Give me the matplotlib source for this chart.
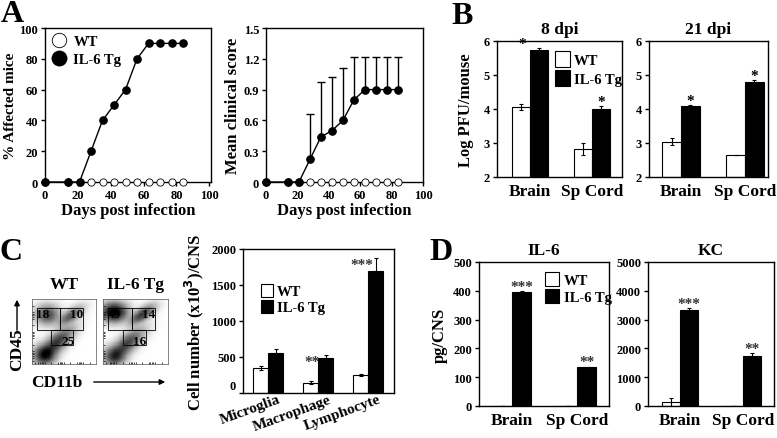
import numpy as np
import matplotlib
matplotlib.use("Agg")
import matplotlib.pyplot as plt
import matplotlib.transforms as mtransforms
from matplotlib.patches import Rectangle, FancyArrowPatch

plt.rcParams['font.family'] = ['Liberation Serif', 'DejaVu Serif']
plt.rcParams['font.weight'] = 'bold'
plt.rcParams['axes.labelweight'] = 'bold'
plt.rcParams['axes.titleweight'] = 'bold'
plt.rcParams['mathtext.default'] = 'bf'
plt.rcParams['axes.linewidth'] = 1.0

W, H = 777, 439

# ---- Panel A data ----
days = [0, 14, 21, 28, 35, 42, 49, 56, 63, 70, 77, 84]
affected_tg = [0, 0, 0, 20, 40, 50, 60, 80, 90, 90, 90, 90]
affected_wt = [0] * 12
score_tg = [0, 0, 0, 0.22, 0.44, 0.50, 0.60, 0.80, 0.90, 0.90, 0.90, 0.90]
score_tg_err = [0, 0, 0, 0.44, 0.53, 0.52, 0.51, 0.42, 0.32, 0.32, 0.32, 0.32]
score_wt = [0] * 12

# ---- Panel B data ----
tissues = ['Brain', 'Sp Cord']
pfu8_wt = [4.06, 2.82]
pfu8_wt_err = [0.10, 0.17]
pfu8_tg = [5.75, 4.01]
pfu8_tg_err = [0.05, 0.07]
pfu21_wt = [3.04, 2.65]
pfu21_wt_err = [0.10, 0.0]
pfu21_tg = [4.09, 4.79]
pfu21_tg_err = [0.03, 0.07]

# ---- Panel C data ----
cell_types = ['Microglia', 'Macrophage', 'Lymphocyte']
cells_wt = [345, 140, 250]
cells_wt_err = [30, 20, 20]
cells_tg = [556, 486, 1694]
cells_tg_err = [55, 45, 180]

gate_labels_wt = ['18', '10', '25']
gate_labels_tg = ['49', '14', '16']

# ---- Panel D data ----
il6_wt = [0, 0]
il6_tg = [396, 135]
il6_tg_err = [5, 2]
kc_wt = [140, 0]
kc_wt_err = [150, 0]
kc_tg = [3340, 1730]
kc_tg_err = [50, 100]


def px(l, t, r, b):
    return [l / W, 1 - b / H, (r - l) / W, (b - t) / H]


fig = plt.figure(figsize=(W / 100, H / 100), dpi=100)

tick_fs = 9
lab_fs = 12


def style(ax):
    ax.tick_params(labelsize=tick_fs, length=3, width=1, pad=2)
    for s in ax.spines.values():
        s.set_linewidth(1.0)


def bold_ticks(ax):
    for t in ax.get_xticklabels() + ax.get_yticklabels():
        t.set_fontweight('bold')


# Panel A1
ax = fig.add_axes(px(45, 29, 211, 183))
ax.plot(days, affected_wt, 'o', mfc='white', mec='black', ms=5.2, mew=0.6,
        clip_on=False, zorder=3, label='WT')
ax.plot(days, affected_tg, '-o', color='black', ms=5.2, lw=1.0,
        clip_on=False, zorder=4, label='IL-6 Tg')
ax.set_xlim(0, 101)
ax.set_ylim(0, 100)
ax.set_xticks([0, 20, 40, 60, 80, 100])
ax.set_yticks([0, 20, 40, 60, 80, 100])
ax.set_xlabel('Days post infection', fontsize=lab_fs, labelpad=1)
ax.set_ylabel('% Affected mice', fontsize=11, labelpad=2)
ax.legend(loc='upper left', frameon=False, fontsize=10.5, markerscale=2.0,
          handletextpad=0.5, borderaxespad=0.15, handlelength=1.0,
          labelspacing=0.35, borderpad=0.3)
style(ax)
bold_ticks(ax)

# Panel A2
ax = fig.add_axes(px(266, 29, 423, 183))
ax.plot(days, score_wt, 'o', mfc='white', mec='black', ms=5.2, mew=0.6,
        clip_on=False, zorder=3)
ax.errorbar(days, score_tg, yerr=[np.zeros(len(days)), score_tg_err],
            fmt='-o', color='black', ms=5.2, lw=1.0, elinewidth=1.0,
            capsize=3, capthick=1.0, clip_on=False, zorder=4)
ax.set_xlim(0, 100)
ax.set_ylim(0, 1.5)
ax.set_xticks([0, 20, 40, 60, 80, 100])
ax.set_yticks([0, 0.3, 0.6, 0.9, 1.2, 1.5])
ax.set_yticklabels(['0', '0.3', '0.6', '0.9', '1.2', '1.5'])
ax.set_xlabel('Days post infection', fontsize=lab_fs, labelpad=1)
ax.set_ylabel('Mean clinical score', fontsize=lab_fs, labelpad=2)
style(ax)
bold_ticks(ax)


def bar_pair(ax, wt, wt_err, tg, tg_err, width, base=0):
    x = np.arange(len(wt))
    ax.bar(x - width / 2, np.array(wt) - base, width, bottom=base,
           color='white', edgecolor='black', lw=0.8, label='WT')
    ax.bar(x + width / 2, np.array(tg) - base, width, bottom=base,
           color='black', edgecolor='black', lw=0.8, label='IL-6 Tg')
    ax.errorbar(x - width / 2, wt, yerr=wt_err, fmt='none', ecolor='black',
                elinewidth=0.8, capsize=1.5, capthick=0.8)
    ax.errorbar(x + width / 2, tg, yerr=tg_err, fmt='none', ecolor='black',
                elinewidth=0.8, capsize=1.5, capthick=0.8)
    return x


# Panel B 8 dpi
ax = fig.add_axes(px(497, 42, 622, 178))
bar_pair(ax, pfu8_wt, pfu8_wt_err, pfu8_tg, pfu8_tg_err, 0.29, base=2)
ax.set_xlim(-0.53, 1.48)
ax.set_ylim(2, 6)
ax.set_yticks([2, 3, 4, 5, 6])
ax.set_xticks([0, 1])
ax.set_xticklabels(tissues)
ax.set_title('8 dpi', fontsize=12.5, pad=6)
ax.set_ylabel('Log PFU/mouse', fontsize=lab_fs, labelpad=7)
ax.legend(loc='upper left', bbox_to_anchor=(0.42, 0.97), frameon=False,
          fontsize=10.5, handlelength=1.0, handleheight=1.3,
          handletextpad=0.3, labelspacing=0.25, borderaxespad=0)
style(ax)
ax.tick_params(axis='x', length=0, labelsize=12.5, pad=4)
bold_ticks(ax)
ax.text(-0.12, pfu8_tg[0] + 0.08, '*', ha='center', fontsize=11)
ax.text(1 + 0.145, pfu8_tg[1] + 0.1, '*', ha='center', fontsize=11)

# Panel B 21 dpi
ax = fig.add_axes(px(649, 42, 768, 178))
bar_pair(ax, pfu21_wt, pfu21_wt_err, pfu21_tg, pfu21_tg_err, 0.29, base=2)
ax.set_xlim(-0.5, 1.36)
ax.set_ylim(2, 6)
ax.set_yticks([2, 3, 4, 5, 6])
ax.set_xticks([0, 1])
ax.set_xticklabels(tissues)
ax.set_title('21 dpi', fontsize=12.5, pad=6)
style(ax)
ax.tick_params(axis='x', length=0, labelsize=12.5, pad=4)
bold_ticks(ax)
ax.text(0.145, pfu21_tg[0] + 0.07, '*', ha='center', fontsize=11)
ax.text(1 + 0.145, pfu21_tg[1] + 0.1, '*', ha='center', fontsize=11)


# Panel C flow plots
def flow(ax, clusters, gates, labels):
    gx, gy = np.meshgrid(np.linspace(0, 1, 120), np.linspace(0, 1, 120))
    z = np.zeros_like(gx)
    for cx, cy, sx, sy, rot, w in clusters:
        dx, dy = gx - cx, gy - cy
        c, s = np.cos(rot), np.sin(rot)
        u = dx * c + dy * s
        v = -dx * s + dy * c
        z += w * np.exp(-0.5 * ((u / sx) ** 2 + (v / sy) ** 2))
    z = np.clip(z / z.max(), 0, 1) ** 0.5
    ax.imshow(z, extent=[0, 1, 0, 1], origin='lower', cmap='gray_r',
              vmin=0, vmax=0.95, interpolation='nearest', aspect='auto')
    for (x0, y0, x1, y1) in gates:
        ax.add_patch(Rectangle((x0, y0), x1 - x0, y1 - y0, fill=False,
                               ec='black', lw=0.6))
    for (tx, ty), t in zip([(0.17, 0.77), (0.70, 0.77), (0.56, 0.35)], labels):
        ax.text(tx, ty, t, fontsize=9.5, ha='center', va='center')
    ax.set_xlim(0, 1)
    ax.set_ylim(0, 1)
    ticks = [0.05, 0.1, 0.13, 0.15, 0.17, 0.2, 0.3, 0.4, 0.43, 0.45, 0.47,
             0.5, 0.6, 0.7, 0.73, 0.75, 0.77, 0.8, 0.9]
    ax.set_xticks(ticks)
    ax.set_yticks(ticks)
    ax.set_xticklabels([])
    ax.set_yticklabels([])
    ax.tick_params(length=1.5, width=0.5, direction='in')
    for s in ax.spines.values():
        s.set_linewidth(0.5)
        s.set_color('#555555')


wt_clusters = [
    (0.20, 0.14, 0.09, 0.08, 0.0, 1.0),
    (0.38, 0.32, 0.18, 0.07, 0.75, 0.75),
    (0.24, 0.76, 0.10, 0.08, 0.0, 0.6),
    (0.60, 0.74, 0.12, 0.05, 0.6, 0.5),
]
tg_clusters = [
    (0.18, 0.12, 0.09, 0.08, 0.0, 0.55),
    (0.36, 0.30, 0.18, 0.07, 0.75, 0.5),
    (0.17, 0.80, 0.11, 0.08, 0.0, 1.0),
    (0.60, 0.76, 0.12, 0.05, 0.6, 0.55),
]
wt_gates = [(0.08, 0.52, 0.44, 0.86), (0.44, 0.52, 0.80, 0.86),
            (0.30, 0.29, 0.64, 0.52)]
tg_gates = [(0.08, 0.52, 0.45, 0.86), (0.45, 0.52, 0.80, 0.86),
            (0.31, 0.29, 0.66, 0.52)]

ax = fig.add_axes(px(32, 300, 96, 365))
flow(ax, wt_clusters, wt_gates, gate_labels_wt)
ax.set_title('WT', fontsize=12.5, pad=8)
ax = fig.add_axes(px(103, 300, 168, 365))
flow(ax, tg_clusters, tg_gates, gate_labels_tg)
ax.set_title('IL-6 Tg', fontsize=12.5, pad=8)

fig.text(17 / W, 1 - 350 / H, 'CD45', rotation=90, ha='center', va='center',
         fontsize=12.5)
fig.text(57 / W, 1 - 383 / H, 'CD11b', ha='center', va='center',
         fontsize=12.5)
fig.add_artist(FancyArrowPatch(
    (17 / W, 1 - 334 / H), (17 / W, 1 - 298 / H), transform=fig.transFigure,
    arrowstyle='-|>', mutation_scale=8, lw=1.0, color='black'))
fig.add_artist(FancyArrowPatch(
    (91 / W, 1 - 383 / H), (168 / W, 1 - 383 / H), transform=fig.transFigure,
    arrowstyle='-|>', mutation_scale=8, lw=1.0, color='black'))

# Panel C bars
ax = fig.add_axes(px(243, 250, 394, 394))
x = bar_pair(ax, cells_wt, cells_wt_err, cells_tg, cells_tg_err, 0.3)
ax.set_xlim(-0.5, 2.52)
ax.set_ylim(0, 2000)
ax.set_yticks([0, 500, 1000, 1500, 2000])
ax.set_xticks(x)
ax.set_ylabel('Cell number (x10$^3$)/CNS', fontsize=lab_fs, labelpad=4)
ax.legend(loc='upper left', bbox_to_anchor=(0.08, 0.8), frameon=False,
          fontsize=10.5, handlelength=0.8, handleheight=1.0,
          handletextpad=0.3, labelspacing=0.1, borderaxespad=0)
style(ax)
ax.set_xticklabels(cell_types, rotation=20, ha='right',
                   rotation_mode='anchor', fontsize=11)
ax.tick_params(axis='x', length=0, pad=1)
bold_ticks(ax)
xoff = mtransforms.ScaledTranslation(10 / 100, 2 / 100, fig.dpi_scale_trans)
for t in ax.get_xticklabels():
    t.set_transform(t.get_transform() + xoff)
ax.text(0.88, cells_tg[1] - 95, '**', ha='center', fontsize=11,
        color='#333333')
ax.text(1.88, cells_tg[2] + 40, '***', ha='center', fontsize=11,
        color='#333333')
off = mtransforms.ScaledTranslation(0, 8 / 100, fig.dpi_scale_trans)
lbl = ax.yaxis.get_major_ticks()[0].label1
lbl.set_transform(lbl.get_transform() + off)

# Panel D IL-6
ax = fig.add_axes(px(479, 263, 609, 407))
bar_pair(ax, il6_wt, [0, 0], il6_tg, il6_tg_err, 0.29)
ax.set_xlim(-0.51, 1.49)
ax.set_ylim(0, 500)
ax.set_yticks([0, 100, 200, 300, 400, 500])
ax.set_xticks([0, 1])
ax.set_xticklabels(tissues)
ax.set_title('IL-6', fontsize=12.5, pad=6)
ax.set_ylabel('pg/CNS', fontsize=lab_fs, labelpad=4)
ax.legend(loc='upper left', bbox_to_anchor=(0.46, 0.97), frameon=False,
          fontsize=10.5, handlelength=1.0, handleheight=1.1,
          handletextpad=0.3, labelspacing=0.1, borderaxespad=0)
style(ax)
ax.tick_params(axis='x', length=0, labelsize=12.5, pad=4)
bold_ticks(ax)
ax.text(0.145, il6_tg[0] + 8, '***', ha='center', fontsize=11, color='#333333')
ax.text(1.145, il6_tg[1] + 8, '**', ha='center', fontsize=11, color='#333333')

# Panel D KC
ax = fig.add_axes(px(648, 263, 774, 407))
bar_pair(ax, kc_wt, kc_wt_err, kc_tg, kc_tg_err, 0.29)
ax.set_xlim(-0.51, 1.49)
ax.set_ylim(0, 5000)
ax.set_yticks([0, 1000, 2000, 3000, 4000, 5000])
ax.set_xticks([0, 1])
ax.set_xticklabels(tissues)
ax.set_title('KC', fontsize=12.5, pad=6)
style(ax)
ax.tick_params(axis='x', length=0, labelsize=12.5, pad=4)
bold_ticks(ax)
ax.text(0.145, kc_tg[0] + 100, '***', ha='center', fontsize=11,
        color='#333333')
ax.text(1.145, kc_tg[1] + 150, '**', ha='center', fontsize=11,
        color='#333333')

# panel letters
for letter, lx, ly in [('A', 12, 15), ('B', 462, 17), ('C', 11, 252),
                       ('D', 441, 253)]:
    fig.text(lx / W, 1 - ly / H, letter, fontsize=23, ha='center',
             va='center', fontweight='bold')

fig.savefig('out.png', dpi=100)
